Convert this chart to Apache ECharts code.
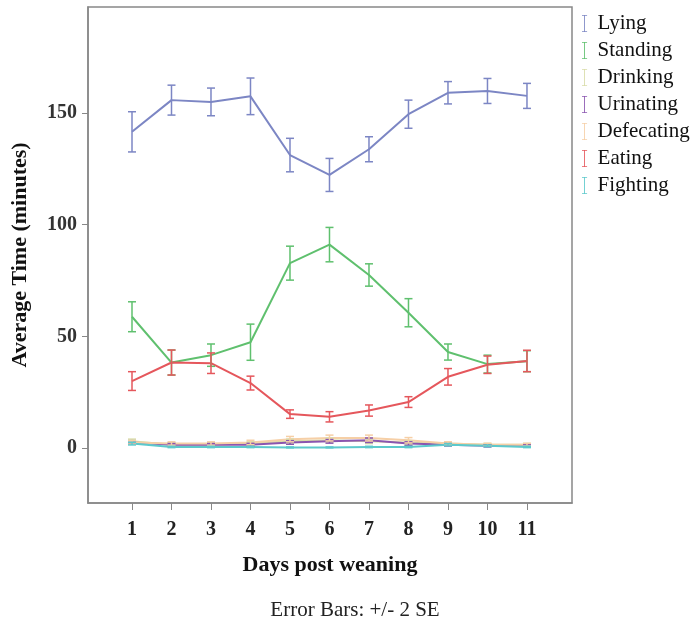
<!DOCTYPE html>
<html>
<head>
<meta charset="utf-8">
<script src="https://cdn.jsdelivr.net/npm/echarts@6/dist/echarts.min.js"></script>
<style>
  html, body { margin: 0; padding: 0; background: #fff; }
  #chart { width: 698px; height: 623px; }
</style>
</head>
<body>
<div id="chart"></div>
<script>
// days post weaning
const days = [1, 2, 3, 4, 5, 6, 7, 8, 9, 10, 11];
const yTicks = [0, 50, 100, 150];

// means (minutes) and half-width of error bar (2 SE)
const lying = [141.6, 155.8, 155.0, 157.5, 131.2, 122.3, 133.8, 149.5, 159.1, 159.9, 157.7];
const lyingErr = [9.0, 6.7, 6.2, 8.2, 7.5, 7.4, 5.6, 6.3, 5.0, 5.6, 5.6];
const standing = [58.8, 38.3, 41.6, 47.4, 82.8, 91.1, 77.5, 60.6, 43.0, 37.6, 38.9];
const standingErr = [6.7, 5.6, 5.0, 8.1, 7.6, 7.7, 5.0, 6.3, 3.6, 4.0, 4.7];
const drinking = [3.0, 1.5, 1.5, 2.0, 3.0, 3.5, 3.0, 2.5, 2.0, 1.5, 1.5];
const drinkingErr = [1.0, 0.8, 0.8, 0.8, 1.0, 1.0, 1.0, 0.8, 0.8, 0.6, 0.6];
const urinating = [2.5, 1.5, 1.5, 1.5, 2.5, 3.0, 3.5, 2.0, 1.5, 1.0, 1.0];
const urinatingErr = [0.8, 0.6, 0.6, 0.6, 0.8, 0.8, 1.0, 0.8, 0.6, 0.5, 0.5];
const defecating = [2.5, 2.0, 2.0, 2.5, 4.0, 4.5, 4.5, 3.5, 2.0, 1.5, 1.5];
const defecatingErr = [0.8, 0.8, 0.8, 1.0, 1.2, 1.3, 1.3, 1.2, 0.8, 0.6, 0.6];
const eating = [30.0, 38.3, 38.0, 29.1, 15.2, 14.0, 16.8, 20.6, 31.9, 37.3, 39.0];
const eatingErr = [4.2, 5.6, 4.6, 3.1, 1.9, 2.3, 2.5, 2.4, 3.7, 3.9, 4.8];
const fighting = [2.0, 0.5, 0.5, 0.5, 0.3, 0.3, 0.5, 0.5, 1.5, 1.0, 0.5];
const fightingErr = [0.6, 0.3, 0.3, 0.3, 0.2, 0.2, 0.3, 0.3, 0.5, 0.4, 0.3];

const behaviours = [
  { name: 'Lying', mean: lying, err: lyingErr, color: '#7c86c4' },
  { name: 'Standing', mean: standing, err: standingErr, color: '#5fc06e' },
  { name: 'Drinking', mean: drinking, err: drinkingErr, color: '#d9dca8' },
  { name: 'Urinating', mean: urinating, err: urinatingErr, color: '#8a55b0' },
  { name: 'Defecating', mean: defecating, err: defecatingErr, color: '#f6cfa6' },
  { name: 'Eating', mean: eating, err: eatingErr, color: '#e5575c' },
  { name: 'Fighting', mean: fighting, err: fightingErr, color: '#5cc9cc' }
];

const serif = '"Liberation Serif", "DejaVu Serif", serif';
const barIcon = 'path://M0,0H6V1H3.5V19H6V20H0V19H2.5V1H0Z';

let series = [];
behaviours.forEach(b => {
  series.push({
    name: b.name,
    type: 'line',
    data: days.map((d, i) => [d, b.mean[i]]),
    symbol: 'none',
    lineStyle: { color: b.color, width: 2 },
    itemStyle: { color: b.color },
    z: 3
  });
  // error bars
  series.push({
    name: b.name,
    type: 'custom',
    data: days.map((d, i) => [d, b.mean[i] - b.err[i], b.mean[i] + b.err[i]]),
    itemStyle: { color: b.color },
    renderItem: function (params, api) {
      const lo = api.coord([api.value(0), api.value(1)]);
      const hi = api.coord([api.value(0), api.value(2)]);
      const w = 4;
      const style = { stroke: b.color, lineWidth: 1.5, fill: null };
      return {
        type: 'group',
        children: [
          { type: 'line', shape: { x1: lo[0], y1: lo[1], x2: hi[0], y2: hi[1] }, style: style },
          { type: 'line', shape: { x1: lo[0] - w, y1: lo[1], x2: lo[0] + w, y2: lo[1] }, style: style },
          { type: 'line', shape: { x1: hi[0] - w, y1: hi[1], x2: hi[0] + w, y2: hi[1] }, style: style }
        ]
      };
    },
    z: 4
  });
});

let myChart = echarts.init(document.getElementById('chart'));
const option = {
  backgroundColor: '#fff',
  animation: false,
  title: {
    text: 'Error Bars: +/- 2 SE',
    left: 350,
    textAlign: 'center',
    top: 595,
    textStyle: { fontFamily: serif, fontSize: 21, fontWeight: 'normal', color: '#222' }
  },
  legend: {
    orient: 'vertical',
    left: 577,
    top: 8,
    itemGap: 6,
    itemWidth: 8,
    itemHeight: 17,
    data: behaviours.map(b => ({ name: b.name, icon: barIcon, itemStyle: { color: b.color } })),
    textStyle: { fontFamily: serif, fontSize: 21, color: '#111', padding: [0, 0, 0, 4] }
  },
  grid: {
    left: 88,
    top: 7,
    width: 484,
    height: 496,
    show: true,
    borderColor: '#888',
    borderWidth: 1.5
  },
  xAxis: {
    type: 'value',
    min: -0.114,
    max: 12.14,
    name: 'Days post weaning',
    nameLocation: 'middle',
    nameGap: 51,
    nameTextStyle: { fontFamily: serif, fontSize: 22, fontWeight: 'bold', color: '#111' },
    axisLine: { show: true, onZero: false, lineStyle: { color: '#888', width: 1.5 } },
    axisTick: { show: true, customValues: days, length: 7, lineStyle: { color: '#888' } },
    axisLabel: { customValues: days, fontFamily: serif, fontSize: 20, fontWeight: 'bold', color: '#222', margin: 17 },
    splitLine: { show: false }
  },
  yAxis: {
    type: 'value',
    min: -24.6,
    max: 197.5,
    name: 'Average Time (minutes)',
    nameLocation: 'middle',
    nameGap: 57,
    nameTextStyle: { fontFamily: serif, fontSize: 22, fontWeight: 'bold', color: '#111' },
    axisLine: { show: true, onZero: false, lineStyle: { color: '#888', width: 1.5 } },
    axisTick: { show: true, customValues: yTicks, length: 6, lineStyle: { color: '#888' } },
    axisLabel: { customValues: yTicks, fontFamily: serif, fontSize: 20, fontWeight: 'bold', color: '#333', margin: 11 },
    splitLine: { show: false }
  },
  series: series
};
myChart.setOption(option);
</script>
</body>
</html>
